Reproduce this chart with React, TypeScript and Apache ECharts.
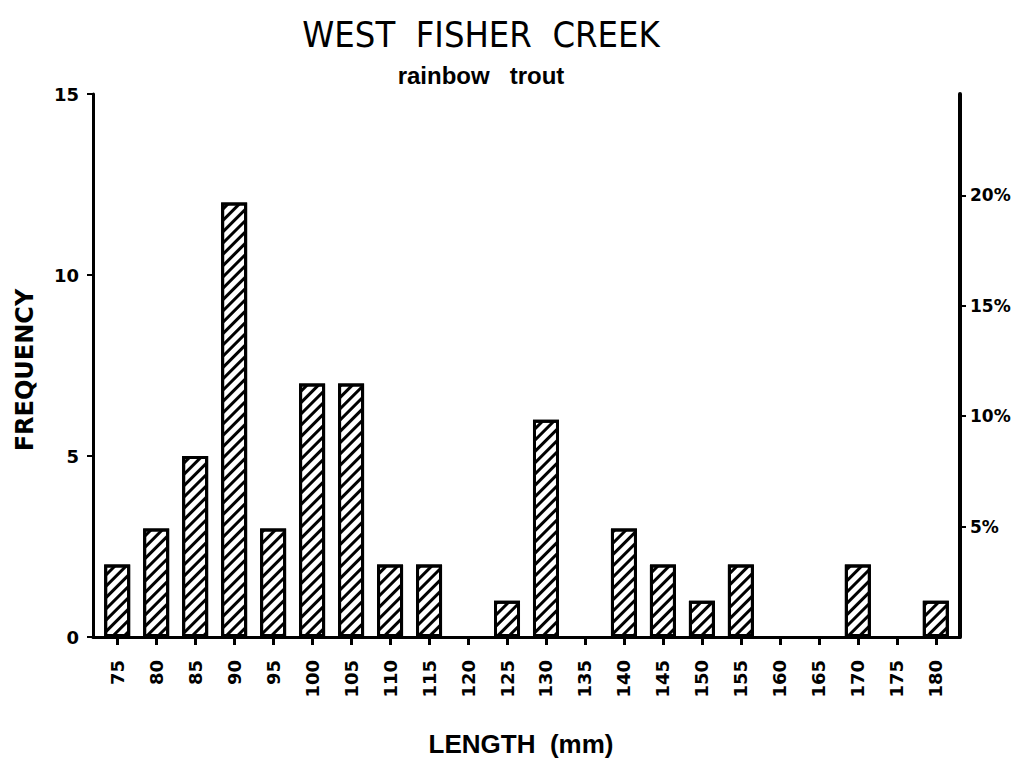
import React, { useEffect, useRef } from "react";
import * as echarts from "echarts";

const lengths = [75, 80, 85, 90, 95, 100, 105, 110, 115, 120, 125, 130, 135, 140, 145, 150, 155, 160, 165, 170, 175, 180];
const frequency = [2, 3, 5, 12, 3, 7, 7, 2, 2, 0, 1, 6, 0, 3, 2, 1, 2, 0, 0, 2, 0, 1];
const freqTicks = [0, 5, 10, 15];
const percentTicks = [5, 10, 15, 20];

const title = "WEST  FISHER  CREEK";
const subtitle = "rainbow   trout";
const xName = "LENGTH  (mm)";
const yName = "FREQUENCY";

export default function App() {
  const ref = useRef<HTMLDivElement>(null);
  useEffect(() => {
    if (!ref.current) return;
    const chart = echarts.init(ref.current, null, { renderer: "svg" });
    const total = frequency.reduce((a, b) => a + b, 0);
    const fmax = freqTicks[freqTicks.length - 1];
    const tickFont = { fontFamily: "DejaVu Sans", fontWeight: "bold" as const, color: "#000" };
    chart.setOption({
      animation: false,
      backgroundColor: "#fff",
      grid: { left: 93, right: 65, top: 94, bottom: 129 },
      xAxis: {
        type: "value",
        min: 71.9,
        max: 183.1,
        splitLine: { show: false },
        axisLine: { show: true, lineStyle: { color: "#000", width: 3 } },
        axisTick: { show: true, customValues: lengths, length: 8, lineStyle: { color: "#000", width: 3 } },
        axisLabel: { customValues: lengths, rotate: 90, margin: 23, fontSize: 18, ...tickFont },
      },
      yAxis: [
        {
          type: "value",
          min: 0,
          max: fmax,
          interval: 5,
          splitLine: { show: false },
          axisLine: { show: true, lineStyle: { color: "#000", width: 3 } },
          axisTick: { show: true, length: 6, lineStyle: { color: "#000", width: 2 } },
          axisLabel: { margin: 14, fontSize: 18, ...tickFont },
        },
        {
          type: "value",
          position: "right",
          min: 0,
          max: (fmax / total) * 100,
          splitLine: { show: false },
          axisLine: { show: true, lineStyle: { color: "#000", width: 4 } },
          axisTick: { show: true, customValues: percentTicks, length: 6, lineStyle: { color: "#000", width: 2 } },
          axisLabel: { customValues: percentTicks, margin: 10, fontSize: 17, formatter: (v: number) => Math.round(v) + "%", ...tickFont },
        },
      ],
      series: [
        {
          type: "bar",
          yAxisIndex: 0,
          barWidth: 26,
          data: lengths.map((l, i) => [l, frequency[i] === 0 ? null : frequency[i]]),
          itemStyle: {
            color: "#fff",
            borderColor: "#000",
            borderWidth: 3,
            decal: {
              symbol: "rect",
              symbolSize: 1,
              color: "#000",
              backgroundColor: "#fff",
              dashArrayX: [1, 0],
              dashArrayY: [3, 5],
              rotation: -Math.PI / 4,
            },
          },
        },
      ],
      graphic: [
        {
          type: "text",
          x: 481,
          y: 34,
          style: { text: title, font: "36px 'DejaVu Sans Condensed'", fill: "#000", textAlign: "center", textVerticalAlign: "middle" },
        },
        {
          type: "text",
          x: 481,
          y: 75,
          style: { text: subtitle, font: "bold 24px 'Liberation Sans'", fill: "#000", textAlign: "center", textVerticalAlign: "middle" },
        },
        {
          type: "text",
          x: 521,
          y: 744,
          style: { text: xName, font: "bold 26px 'Liberation Sans'", fill: "#000", textAlign: "center", textVerticalAlign: "middle" },
        },
        {
          type: "text",
          x: 25,
          y: 370,
          rotation: Math.PI / 2,
          style: { text: yName, font: "bold 24px 'DejaVu Sans'", fill: "#000", textAlign: "center", textVerticalAlign: "middle" },
        },
      ],
    });
    return () => chart.dispose();
  }, []);
  return <div ref={ref} style={{ position: "fixed", left: 0, top: 0, width: 1025, height: 766 }} />;
}
